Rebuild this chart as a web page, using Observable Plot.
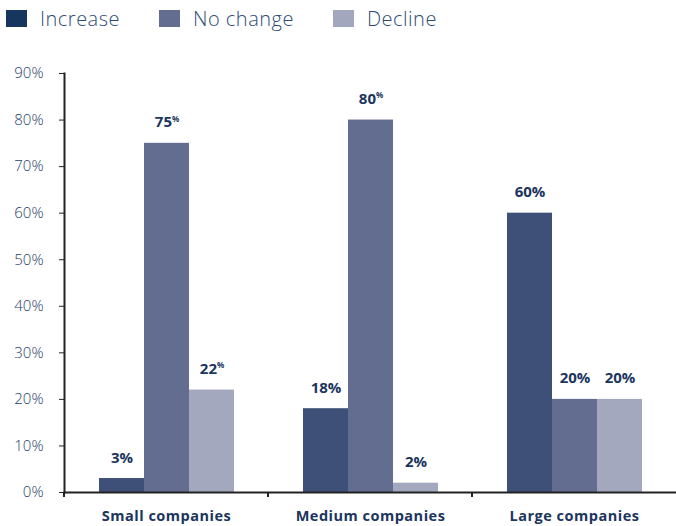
<!DOCTYPE html>
<html><head><meta charset="utf-8">
<script src="https://cdn.jsdelivr.net/npm/d3@7"></script>
<script src="https://cdn.jsdelivr.net/npm/@observablehq/plot@0.6"></script>
<style>
body{margin:0;background:#fff;font-family:"Open Sans",sans-serif;}
#legend{height:36px;display:flex;align-items:center;padding-left:6px;box-sizing:border-box;}
.item{display:flex;align-items:center;margin-right:39px;color:#2f4b74;font-size:20px;font-weight:300;letter-spacing:0.5px;}
.sw{width:21px;height:17px;margin-right:13px;}
</style></head><body>
<div id="legend"></div><div id="chart"></div>
<script>
const companies = ["Small companies", "Medium companies", "Large companies"];
const series = ["Increase", "No change", "Decline"];
const increase = [3, 18, 60];
const noChange = [75, 80, 20];
const decline = [22, 2, 20];
// whether the % sign is set as a small superscript in the label
const supIncrease = [false, false, false];
const supNoChange = [true, true, false];
const supDecline = [true, false, false];
const colors = ["#3e5077", "#636d8f", "#a3a8be"];
const legendColors = ["#17365e", "#636d8f", "#a3a7bd"];
const yTicks = [0, 10, 20, 30, 40, 50, 60, 70, 80, 90];

const valuesBySeries = [increase, noChange, decline];
const supBySeries = [supIncrease, supNoChange, supDecline];
const data = [];
companies.forEach((c, i) => series.forEach((s, j) => {
  const v = valuesBySeries[j][i];
  data.push({company: c, series: s, value: v, label: supBySeries[j][i] ? v + "^" : v + "%"});
}));

const legend = document.getElementById("legend");
series.forEach((s, j) => {
  const it = document.createElement("div"); it.className = "item";
  const sw = document.createElement("div"); sw.className = "sw"; sw.style.background = legendColors[j];
  const tx = document.createElement("span"); tx.textContent = s;
  it.appendChild(sw); it.appendChild(tx); legend.appendChild(it);
});

const chart = Plot.plot({
  width: 676, height: 490,
  marginTop: 37, marginBottom: 34, marginLeft: 63, marginRight: 0,
  fx: {domain: companies, padding: 0, label: null},
  x: {domain: series, paddingInner: 0, paddingOuter: 0.75, axis: null},
  y: {domain: [0, 90], axis: null},
  color: {domain: series, range: colors},
  style: {fontFamily: "Open Sans, sans-serif", background: "#fff", overflow: "visible"},
  marks: [
    Plot.barY(data, {fx: "company", x: "series", y: "value", fill: "series"}),
    Plot.text(data, {fx: "company", x: "series", y: "value", text: "label", dy: -16, lineAnchor: "bottom",
      fontWeight: "bold", fontSize: 15, fill: "#1b355e", letterSpacing: "0.6px"}),
    Plot.axisY({ticks: yTicks, tickFormat: d => d + "%", tickSize: 5, tickPadding: 16, fontSize: 15,
      fontWeight: 300, fill: "#1f3d6b", stroke: "#222", label: null}),
    Plot.axisFx({anchor: "bottom", tickSize: 0, tickPadding: 18, fontSize: 14.5, fontWeight: "bold",
      fill: "#1b355e", label: null}),
    Plot.frame({anchor: "left", facet: "super", stroke: "#222", strokeWidth: 2}),
    Plot.frame({anchor: "bottom", facet: "super", stroke: "#222", strokeWidth: 2})
  ]
});
document.getElementById("chart").appendChild(chart);

// boundary ticks between company groups
const fx = chart.scale("fx");
const y = chart.scale("y");
const y0 = y.apply(0);
const svg = d3.select(chart);
const g = svg.append("g").attr("stroke", "#222").attr("stroke-width", 2);
companies.forEach(c => {
  const xb = fx.apply(c);
  g.append("line").attr("x1", xb).attr("x2", xb).attr("y1", y0).attr("y2", y0 + 5);
});

// superscript percent signs
svg.selectAll("text").each(function() {
  const t = this.textContent;
  if (t.endsWith("^")) {
    this.textContent = t.slice(0, -1);
    d3.select(this).append("tspan").attr("font-size", 8).attr("dy", "-0.7em").text("%");
  }
});
// category labels a little wider, like the reference
svg.selectAll("[aria-label='fx-axis tick label'] text").attr("letter-spacing", "0.5px");
</script>
</body></html>
